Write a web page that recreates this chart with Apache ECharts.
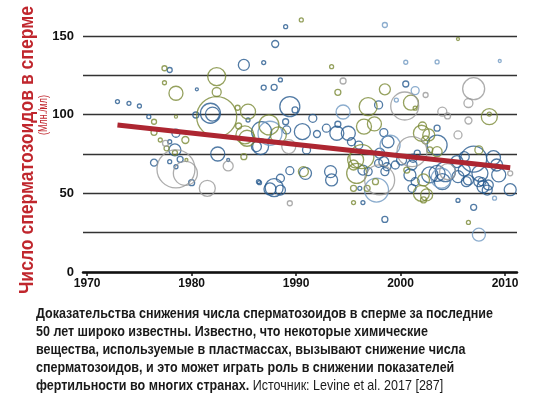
<!DOCTYPE html>
<html>
<head>
<meta charset="utf-8">
<script src="https://cdn.jsdelivr.net/npm/echarts@6.0.0/dist/echarts.min.js"></script>
<style>
    html, body { margin: 0; padding: 0; background: #fff; }
    #wrap { position: relative; width: 537px; height: 403px; overflow: hidden; }
    #chart { position: absolute; left: 0; top: 0; width: 537px; height: 403px; }
    #caption {
        position: absolute; left: 36px; top: 304px;
        font-family: "Liberation Sans", Arial, sans-serif;
        font-size: 15px; line-height: 17.9px; font-weight: bold; color: #1a1a1a;
        white-space: nowrap; transform-origin: 0 0;
    }
    #caption span.src { font-weight: normal; }
</style>
</head>
<body>
<div id="wrap">
    <div id="chart"></div>
    <div id="caption"><span id="line1">Доказательства снижения числа сперматозоидов в сперме за последние</span><br>50 лет широко известны. Известно, что некоторые химические<br>вещества, используемые в пластмассах, вызывают снижение числа<br>сперматозоидов, и это может играть роль в снижении показателей<br>фертильности во многих странах. <span class="src">Источник: Levine et al. 2017 [287]</span></div>
</div>
<script>
// one study per entry: year, mean count (млн/мл), sample size, group
var studyYear = [
    1972.9, 1974.0, 1975.0, 1975.9, 1976.4, 1976.4, 1977.4, 1977.9, 1977.4, 1978.5,
    1978.5, 1980.5, 1982.4, 1982.4, 1985.0, 1986.9, 1986.9, 1980.4, 1982.4, 1981.8,
    1982.0, 1985.4, 1984.4, 1985.4, 1984.5, 1985.3, 1986.7, 1986.2, 1985.0, 1982.5,
    1983.5, 1983.5, 1978.5, 1979.4, 1978.4, 1978.5, 1979.4, 1977.9, 1977.5, 1977.6,
    1976.4, 1977.0, 1977.9, 1978.9, 1979.5, 1978.4, 1978.5, 1980.0, 1981.5, 1986.5,
    1987.5, 1989.0, 1990.5, 1988.0, 1993.4, 1988.5, 1987.9, 1989.4, 1989.9, 1987.4,
    1987.5, 1989.0, 1989.1, 1990.6, 1991.6, 1992.0, 1992.9, 1993.9, 1988.3, 1985.1,
    1986.6, 1989.3, 1991.0, 1989.4, 1990.7, 1990.9, 1993.3, 1993.4, 1987.9, 1988.5,
    1988.5, 1986.4, 1989.4, 1998.5, 2005.5, 2000.5, 2003.5, 2009.5, 1994.5, 1994.0,
    1998.5, 2000.5, 2001.4, 2002.4, 2007.0, 2006.5, 2008.5, 2008.5, 2006.5, 2004.5,
    2004.0, 2000.4, 2001.0, 1999.6, 2001.4, 1994.5, 1996.9, 1997.9, 1996.5, 1997.5,
    1994.0, 1995.0, 1998.4, 2005.5, 2003.5, 2002.7, 2003.5, 2001.1, 1999.0, 1996.3,
    1996.0, 1995.7, 2007.0, 2007.5, 2008.9, 2009.2, 2009.4, 2010.5, 2010.5, 2007.6,
    2008.4, 2007.8, 2009.0, 2006.5, 2005.5, 2005.5, 2007.0, 2006.5, 2007.5, 1998.5,
    2004.3, 2003.5, 2003.9, 2002.0, 2002.2, 2002.2, 2001.4, 2001.1, 2001.2, 2001.6,
    2000.6, 1998.0, 1997.6, 1998.5, 1998.7, 1997.9, 1996.9, 1995.8, 1995.5, 1996.1,
    1995.5, 1996.4, 2002.0, 2003.5, 2005.4, 2006.1, 2006.1, 2004.5, 2004.0, 2002.8,
    2002.5, 2007.9, 2008.3, 2007.5, 2006.3, 1998.4, 1996.4, 1995.5, 1997.7, 1996.8,
    2000.9, 2001.1, 1998.8, 1998.0, 1995.3, 1999.5, 2000.1, 2002.1, 2002.4, 2002.8
];
var spermCount = [
    108.3, 107.2, 105.5, 98.7, 95.5, 88.8, 129.5, 128.4, 120.3, 113.6,
    98.7, 116.1, 124.2, 114.4, 131.6, 133.1, 117.2, 99.8, 98.7, 100.9,
    100.4, 101.9, 104.4, 96.6, 92.8, 85.0, 89.2, 79.7, 73.3, 75.0,
    67.4, 71.2, 65.5, 62.7, 77.6, 88.2, 83.9, 82.8, 81.8, 78.6,
    69.5, 83.9, 70.1, 71.6, 71.2, 75.8, 66.9, 56.8, 53.2, 56.8,
    52.8, 155.9, 160.2, 144.9, 130.5, 122.1, 117.4, 105.1, 103.0, 93.5,
    88.2, 95.5, 90.3, 89.2, 97.7, 87.7, 91.4, 88.2, 87.1, 87.1,
    79.7, 79.7, 77.6, 64.4, 63.8, 62.7, 63.8, 58.5, 53.6, 52.1,
    59.6, 57.4, 43.7, 157.0, 148.1, 133.3, 133.5, 134.1, 121.4, 114.2,
    116.1, 119.5, 115.3, 112.5, 116.5, 107.4, 98.7, 100.4, 96.3, 99.2,
    101.9, 105.5, 107.6, 109.3, 104.1, 101.7, 105.1, 106.2, 92.4, 94.1,
    93.9, 88.2, 88.6, 87.1, 91.4, 87.1, 80.7, 76.5, 80.7, 73.3,
    80.7, 71.2, 71.8, 77.6, 72.7, 68.0, 61.7, 52.3, 62.7, 62.7,
    55.3, 57.4, 46.9, 58.5, 60.6, 45.5, 41.1, 31.5, 23.7, 33.4,
    63.8, 62.7, 59.6, 50.0, 58.5, 45.8, 57.4, 68.0, 72.3, 75.5,
    64.8, 58.5, 57.4, 63.8, 66.9, 69.1, 63.8, 62.7, 53.2, 53.2,
    44.1, 44.1, 88.2, 76.5, 70.2, 73.3, 64.8, 63.8, 57.4, 61.7,
    49.0, 54.2, 52.1, 57.4, 57.4, 70.1, 64.8, 68.0, 52.1, 53.2,
    61.7, 53.2, 82.8, 75.5, 82.8, 68.0, 71.2, 92.8, 83.9, 77.6
];
var sampleSize = [
    80, 80, 80, 80, 125, 180, 125, 125, 80, 980,
    45, 45, 1620, 405, 605, 80, 125, 180, 8000, 2000,
    980, 1125, 125, 80, 180, 1280, 2000, 500, 180, 980,
    500, 45, 7220, 2880, 720, 320, 245, 80, 180, 125,
    245, 80, 80, 180, 45, 125, 80, 180, 1280, 80,
    720, 80, 80, 245, 80, 80, 180, 2000, 180, 2000,
    2880, 180, 320, 1280, 320, 245, 320, 980, 1280, 1620,
    1280, 980, 320, 320, 500, 720, 720, 720, 1620, 500,
    320, 80, 125, 125, 45, 80, 80, 45, 180, 180,
    605, 180, 320, 125, 2420, 405, 1280, 80, 245, 180,
    405, 3920, 1125, 80, 80, 980, 1620, 320, 1125, 980,
    180, 980, 320, 320, 180, 720, 2000, 4500, 2000, 2880,
    320, 1280, 3380, 320, 980, 720, 980, 720, 125, 1280,
    500, 320, 80, 500, 720, 80, 180, 80, 845, 180,
    2000, 1280, 2000, 1280, 720, 180, 320, 500, 320, 180,
    180, 4500, 180, 320, 320, 320, 320, 2000, 180, 80,
    80, 80, 1280, 500, 720, 500, 720, 1280, 1280, 1280,
    720, 720, 500, 500, 500, 500, 500, 500, 2880, 180,
    720, 320, 720, 500, 320, 320, 500, 320, 320, 180
];
var studyGroup = [
    0, 0, 0, 0, 2, 2, 2, 0, 2, 2,
    2, 0, 2, 2, 0, 0, 0, 0, 2, 0,
    0, 2, 2, 0, 2, 2, 0, 0, 2, 0,
    3, 0, 3, 3, 0, 0, 2, 0, 3, 2,
    0, 2, 0, 0, 2, 2, 0, 0, 3, 0,
    0, 0, 2, 0, 2, 0, 0, 0, 0, 2,
    1, 0, 0, 0, 0, 0, 0, 0, 2, 2,
    0, 3, 0, 0, 2, 0, 0, 0, 0, 0,
    0, 0, 3, 1, 2, 1, 1, 1, 3, 2,
    2, 0, 1, 3, 3, 3, 2, 2, 3, 3,
    3, 3, 2, 1, 2, 1, 2, 0, 2, 2,
    0, 0, 0, 3, 0, 2, 0, 3, 1, 2,
    0, 2, 0, 2, 0, 0, 0, 0, 3, 0,
    0, 0, 1, 0, 0, 0, 0, 2, 1, 0,
    0, 0, 1, 2, 2, 2, 0, 0, 0, 0,
    2, 3, 2, 0, 0, 0, 0, 2, 2, 0,
    2, 0, 2, 2, 0, 0, 0, 3, 0, 0,
    2, 0, 0, 0, 0, 0, 0, 2, 1, 2,
    0, 0, 0, 0, 0, 0, 0, 2, 2, 2
];

// fitted trend
var trendYears = [1972.9, 2010.5];
var trendValues = [93.4, 66.3];

var yearTicks = [1970, 1980, 1990, 2000, 2010];
var countTicks = [0, 50, 100, 150];

var groupColors = ["#275a8e", "#6f98c2", "#7b8a36", "#999999"];
var fontName = "'Liberation Sans', Arial, sans-serif";
var titleText = "Число сперматозоидов в сперме";
var unitText = "(Млн./мл)";

// no narrow font installed, so squeeze text to the lengths of the original
function squeeze(text, font, target) {
    var ctx = document.createElement("canvas").getContext("2d");
    ctx.font = font;
    return target / ctx.measureText(text).width;
}

var cap = document.getElementById("caption");
var capScale = 457 / document.getElementById("line1").getBoundingClientRect().width;
cap.style.transform = "scaleX(" + capScale + ")";

var series = [];
for (var g = 0; g < groupColors.length; g++) {
    var pts = [];
    for (var i = 0; i < studyYear.length; i++) {
        if (studyGroup[i] === g) {
            pts.push([studyYear[i], spermCount[i], sampleSize[i]]);
        }
    }
    series.push({
        type: "scatter",
        data: pts,
        clip: false,
        silent: true,
        symbolSize: function(v) {
            return 2 * Math.sqrt(v[2] / 20);
        },
        itemStyle: {
            color: "rgba(0,0,0,0)",
            borderColor: groupColors[g],
            borderWidth: 1.3
        },
        z: 2
    });
}

series.push({
    type: "line",
    data: [[trendYears[0], trendValues[0]], [trendYears[1], trendValues[1]]],
    symbol: "none",
    silent: true,
    lineStyle: {
        color: "#ad2631",
        width: 5
    },
    z: 5
});

var option = {
    animation: false,
    grid: {
        left: 83,
        right: 20,
        top: 36,
        bottom: 131
    },
    xAxis: {
        type: "value",
        min: 1969.6,
        max: 2011.15,
        splitLine: { show: false },
        axisLine: {
            lineStyle: { color: "#111", width: 2.5 }
        },
        axisTick: {
            customValues: yearTicks,
            length: 4,
            lineStyle: { color: "#111", width: 1.5 }
        },
        axisLabel: {
            customValues: yearTicks,
            margin: 6,
            color: "#111",
            fontFamily: fontName,
            fontWeight: "bold",
            fontSize: 12,
            formatter: function(v) {
                return String(v);
            }
        }
    },
    yAxis: {
        type: "value",
        min: 0,
        max: 150,
        interval: 25,
        axisLine: { show: false },
        axisTick: { show: false },
        splitLine: {
            lineStyle: { color: "#333", width: 1.3 }
        },
        axisLabel: {
            margin: 9,
            color: "#111",
            fontFamily: fontName,
            fontWeight: "bold",
            fontSize: 13,
            formatter: function(v) {
                return countTicks.indexOf(v) > -1 ? String(v) : "";
            }
        }
    },
    graphic: [{
        type: "text",
        x: 27,
        y: 150,
        rotation: Math.PI / 2,
        scaleX: squeeze(titleText, "bold 21px 'Liberation Sans'", 288),
        style: {
            text: titleText,
            fill: "#c0262d",
            fontFamily: fontName,
            fontWeight: "bold",
            fontSize: 21,
            align: "center",
            verticalAlign: "middle"
        }
    },
    {
        type: "text",
        x: 43,
        y: 115,
        rotation: Math.PI / 2,
        scaleX: squeeze(unitText, "13px 'Liberation Sans'", 40),
        style: {
            text: unitText,
            fill: "#c0262d",
            fontFamily: fontName,
            fontSize: 13,
            align: "center",
            verticalAlign: "middle"
        }
    }],
    series: series
};

var myChart = echarts.init(document.getElementById("chart"));
myChart.setOption(option);
</script>
</body>
</html>
